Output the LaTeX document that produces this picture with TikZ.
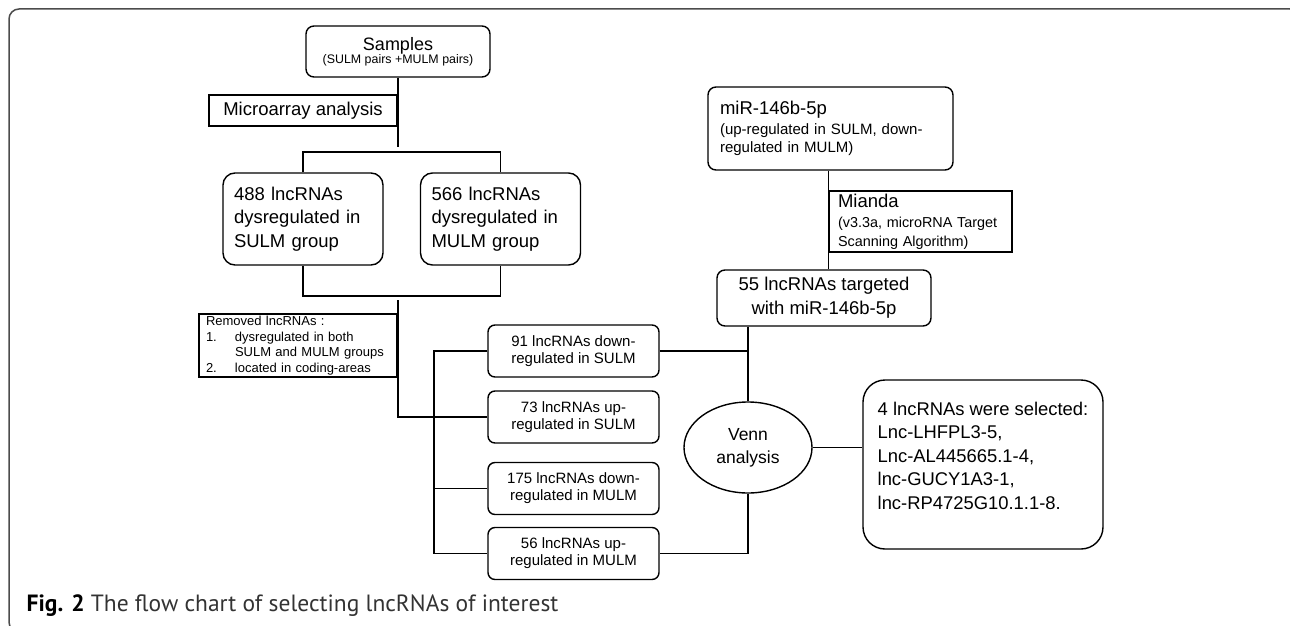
\documentclass[tikz,border=0pt]{standalone}
\usepackage{fontspec}
\setmainfont{Liberation Sans}
\newfontfamily\capfont{PT Sans}
\usetikzlibrary{shapes.geometric}

\newcommand\bigtxt{\fontsize{18.5}{23.3}\selectfont}
\newcommand\leaftxt{\fontsize{15}{17}\selectfont}

\begin{document}
\begin{tikzpicture}[x=1pt, y=-1pt, line width=1.4pt,
    rbox/.style={draw, rounded corners=8pt, inner sep=0pt, align=center},
    sqbox/.style={draw, inner sep=0pt},
    groupbox/.style={rbox, rounded corners=12pt, align=left, text width=138pt,
      inner xsep=11pt, minimum height=92pt, font=\bigtxt},
    leaf/.style={rbox, rounded corners=7pt, minimum width=171pt,
      minimum height=52pt, font=\leaftxt}]
  
  \useasboundingbox (0,0) rectangle (1290,626);
  
  % outer frame of the figure
  \draw[black!70, line width=1.5pt, rounded corners=10pt] (9,9) rectangle (1300,632);
  
  % left branch: samples and microarray
  \node[rbox, minimum width=184pt, minimum height=51pt] (samples) at (398,51.5)
    {{\fontsize{18}{20}\selectfont Samples}\\[-1pt]
     {\fontsize{12.4}{14}\selectfont (SULM pairs +MULM pairs)}};
  \node[sqbox, minimum width=188pt, minimum height=31pt, font=\bigtxt] (micro)
    at (303,110.5) {Microarray analysis};
  
  \node[groupbox] (g488) at (303,219) {488 lncRNAs\\dysregulated in\\SULM group};
  \node[groupbox] (g566) at (500.5,219) {566 lncRNAs\\dysregulated in\\MULM group};
  
  \node[sqbox, align=left, text width=184pt, inner xsep=7pt, minimum height=63pt,
    font=\fontsize{13}{15.7}\selectfont] (removed) at (298,345.5)
    {Removed lncRNAs :\\
     \makebox[29pt][l]{1.}dysregulated in both\\
     \hspace*{29pt}SULM and MULM groups\\
     \makebox[29pt][l]{2.}located in coding-areas};
  
  % the four lists
  \node[leaf] (d91) at (573.5,351) {91 lncRNAs down-\\regulated in SULM};
  \node[leaf] (u73) at (573.5,417) {73 lncRNAs up-\\regulated in SULM};
  \node[leaf] (d175) at (573.5,488.5) {175 lncRNAs down-\\regulated in MULM};
  \node[leaf] (u56) at (573.5,553.5) {56 lncRNAs up-\\regulated in MULM};
  
  % right branch: miRNA targets
  \node[rbox, align=left, text width=221pt, inner xsep=12pt, minimum height=83pt,
    font=\fontsize{15}{18}\selectfont] (mir) at (830.5,128.5)
    {{\fontsize{18.5}{20}\selectfont miR-146b-5p}\\[2pt]
     (up-regulated in SULM, down-\\regulated in MULM)};
  \node[sqbox, align=left, text width=165pt, inner xsep=9pt, minimum height=61pt,
    font=\fontsize{14.4}{19}\selectfont] (mianda) at (920.5,221.5)
    {{\fontsize{18.5}{20}\selectfont Mianda}\\[1pt]
     (v3.3a, microRNA Target\\Scanning Algorithm)};
  \node[rbox, minimum width=214pt, minimum height=56pt, font=\fontsize{18.5}{24}\selectfont]
    (t55) at (824,298) {55 lncRNAs targeted\\with miR-146b-5p};
  
  % venn and result
  \node[draw, ellipse, minimum width=128pt, minimum height=91pt, inner sep=0pt,
    align=center, font=\fontsize{17.5}{23}\selectfont] (venn) at (748,447.5)
    {Venn\\analysis};
  \node[rbox, rounded corners=22pt, align=left, minimum width=240pt,
    minimum height=169pt, font=\fontsize{18.4}{23.5}\selectfont] (result) at (983,464.5)
    {4 lncRNAs were selected:\\Lnc-LHFPL3-5,\\Lnc-AL445665.1-4,\\lnc-GUCY1A3-1,\\
     lnc-RP4725G10.1.1-8.\\[-6pt]\mbox{}};
  
  % caption
  \node[anchor=west, inner sep=0pt, text=black!80,
    font=\capfont\fontsize{23.5}{26}\selectfont] (caption) at (26,606)
    {\textbf{\color{black}Fig. 2} The flow chart of selecting lncRNAs of interest};
  
  % junctions
  \coordinate (split) at (398,147);
  \coordinate (topbus) at (398,152);
  \coordinate (botbus) at (398,296);
  \coordinate (merge) at (398,300);
  \coordinate (lbus) at (434,450);
  
  % connectors
  \draw (samples) -- (split);
  \draw (g488.north) |- (topbus) -| (g566.north);
  \draw (g488.south) |- (botbus) -| (g566.south);
  \draw (merge) |- (u73.west);
  \draw (d91.west) -- (d91.west -| lbus) |- (u56.west);
  \draw (d175.west) -- (d175.west -| lbus);
  \draw (mir.south -| mianda.west) -- (t55.north -| mianda.west);
  \draw (t55.south -| venn.north) -- (venn.north);
  \draw (d91.east) -- (d91.east -| venn.north);
  \draw (venn.south) |- (u56.east);
  \draw (venn.east) -- (venn.east -| result.west);
  
\end{tikzpicture}
\end{document}
